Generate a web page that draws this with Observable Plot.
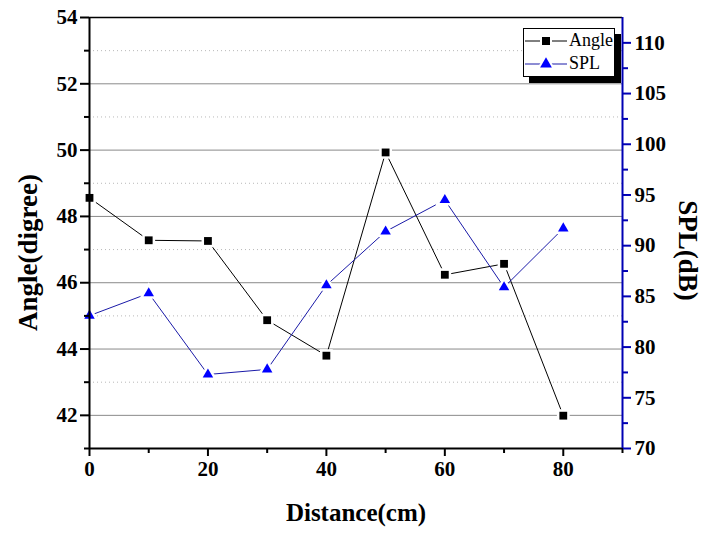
<!DOCTYPE html>
<html><head><meta charset="utf-8">
<script src="https://cdn.jsdelivr.net/npm/d3@7"></script>
<script src="https://cdn.jsdelivr.net/npm/@observablehq/plot@0.6"></script>
<style>
body{margin:0;background:#fff;}
#wrap{position:relative;width:711px;height:535px;}
#legend{position:absolute;left:523px;top:28px;width:90px;height:47px;border:1px solid #000;background:#fff;box-shadow:6px 6px 0 #000;font-family:"Liberation Serif",serif;font-size:18px;}
#legend div{height:23px;display:flex;align-items:center;}
.ytitle{position:absolute;width:220px;height:27px;line-height:27px;font-size:27px;font-weight:bold;font-family:"Liberation Serif",serif;text-align:center;white-space:nowrap;transform-origin:50% 50%;color:#000;}
</style></head><body><div id="wrap"></div>
<script>
const distance = [0, 10, 20, 30, 40, 50, 60, 70, 80];
const angle = [48.56, 47.28, 47.26, 44.87, 43.80, 49.93, 46.24, 46.57, 41.99];
const spl = [83.1, 85.3, 77.3, 77.8, 86.1, 91.4, 94.5, 85.9, 91.7];
const angleMajor = [42, 44, 46, 48, 50, 52, 54];
const angleMinor = [41, 43, 45, 47, 49, 51, 53];
const splMajor = [70, 75, 80, 85, 90, 95, 100, 105, 110];
const splMinor = [72.5, 77.5, 82.5, 87.5, 92.5, 97.5, 102.5, 107.5];
const xMajor = [0, 20, 40, 60, 80];
const xMinor = [10, 30, 50, 70, 90];
const angleDomain = [41, 54];
const splDomain = [70, 112.5];
const xDomain = [0, 90];
const seriesNames = ["Angle", "SPL"];
const xTitle = "Distance(cm)";
const yTitle = "Angle(digree)";
const y2Title = "SPL(dB)";

const toY = s => angleDomain[0] + (s - splDomain[0]) * (angleDomain[1] - angleDomain[0]) / (splDomain[1] - splDomain[0]);
const fromY = v => splDomain[0] + (v - angleDomain[0]) * (splDomain[1] - splDomain[0]) / (angleDomain[1] - angleDomain[0]);

const angleData = distance.map((d, i) => ({x: d, y: angle[i]}));
const splData = distance.map((d, i) => ({x: d, y: toY(spl[i])}));

const BLUE = "#0000ff";
const BLUE_LINE = "#1a1aa8";
const AXIS_BLUE = "#0000b4";
const FS = 21;

const chart = Plot.plot({
  width: 711, height: 535,
  marginLeft: 89, marginRight: 89, marginTop: 17, marginBottom: 87,
  x: {domain: xDomain},
  y: {domain: angleDomain},
  style: {fontFamily: "'Liberation Serif', serif", fontWeight: "bold", background: "#fff", color: "#000"},
  marks: [
    Plot.ruleY(angleMinor.slice(1), {stroke: "#b8b8b8", strokeDasharray: "1,3", strokeWidth: 1}),
    Plot.ruleY(angleMajor.slice(0, -1), {stroke: "#8a8a8a", strokeWidth: 1}),
    Plot.ruleY([angleDomain[1]], {stroke: "#000", strokeWidth: 1.5}),
    Plot.line(angleData, {x: "x", y: "y", stroke: "#000", strokeWidth: 1}),
    Plot.line(splData, {x: "x", y: "y", stroke: BLUE_LINE, strokeWidth: 1}),
    Plot.dot(angleData, {x: "x", y: "y", symbol: "square", r: 4.4, fill: "#000", stroke: "#fff", strokeWidth: 5, paintOrder: "stroke"}),
    Plot.dot(splData, {x: "x", y: "y", symbol: "triangle", r: 3.9, fill: BLUE, stroke: "#fff", strokeWidth: 5, paintOrder: "stroke"}),
    Plot.ruleX([xDomain[0]], {stroke: "#000", strokeWidth: 2}),
    Plot.ruleY([angleDomain[0]], {stroke: "#000", strokeWidth: 2}),
    Plot.ruleX([xDomain[1]], {stroke: AXIS_BLUE, strokeWidth: 2}),
    Plot.axisY(angleMajor, {anchor: "left", tickSize: 9, tickPadding: 3, fontSize: FS, strokeWidth: 2, label: null}),
    Plot.axisY(angleMinor, {anchor: "left", tickSize: 5, tickFormat: () => "", strokeWidth: 2, label: null}),
    Plot.axisX(xMajor, {anchor: "bottom", tickSize: 8, tickPadding: 5, fontSize: FS, strokeWidth: 2, label: null}),
    Plot.axisX(xMinor, {anchor: "bottom", tickSize: 5, tickFormat: () => "", strokeWidth: 2, label: null}),
    Plot.axisY(splMajor.map(toY), {anchor: "right", tickSize: 8, tickPadding: 4, fontSize: FS, stroke: AXIS_BLUE, fill: "#000", strokeWidth: 2, tickFormat: v => String(Math.round(fromY(v))), label: null}),
    Plot.axisY(splMinor.map(toY), {anchor: "right", tickSize: 5, stroke: AXIS_BLUE, strokeWidth: 2, tickFormat: () => "", label: null}),
    Plot.text([xTitle], {frameAnchor: "bottom", dy: 72, fontSize: 25, fontWeight: "bold", fill: "#000"})
  ]
});

const wrap = document.getElementById("wrap");
wrap.appendChild(chart);

function addTitle(text, cx, cy, deg) {
  const el = document.createElement("div");
  el.className = "ytitle";
  el.textContent = text;
  el.style.left = (cx - 110) + "px";
  el.style.top = (cy - 13.5) + "px";
  el.style.transform = `rotate(${deg}deg)`;
  wrap.appendChild(el);
}
addTitle(yTitle, 27.5, 252.5, -90);
addTitle(y2Title, 687, 250, 90);

const legend = document.createElement("div");
legend.id = "legend";
const styles = [
  {stroke: "#000", fill: "#000", sym: d3.symbolSquare, size: 64},
  {stroke: BLUE_LINE, fill: BLUE, sym: d3.symbolTriangle, size: 60}
];
seriesNames.forEach((name, i) => {
  const row = document.createElement("div");
  const s = styles[i];
  const path = d3.symbol(s.sym, s.size)();
  row.innerHTML = `<svg width="44" height="20" style="flex:none"><line x1="1" x2="43" y1="10" y2="10" stroke="${s.stroke}" stroke-width="1"/><path d="${path}" transform="translate(22,10)" fill="${s.fill}" stroke="#fff" stroke-width="4" paint-order="stroke"/></svg><span style="margin-left:1px">${name}</span>`;
  legend.appendChild(row);
});
wrap.appendChild(legend);
</script></body></html>
